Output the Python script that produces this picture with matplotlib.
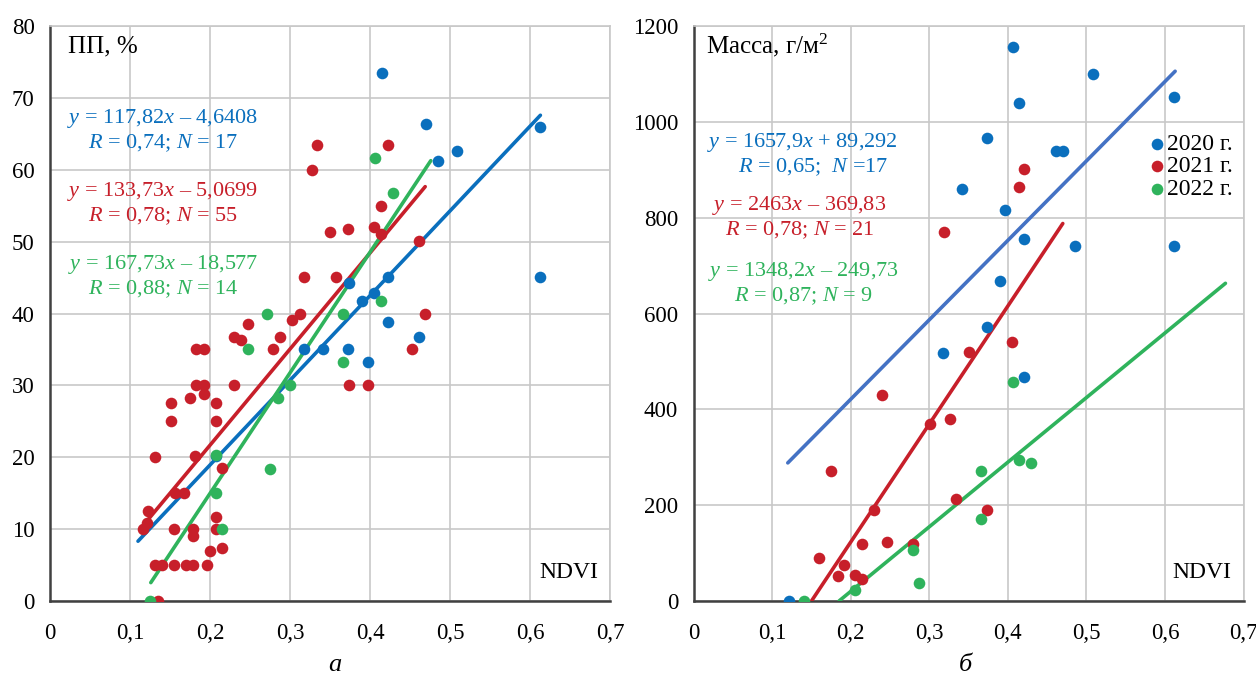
import numpy as np
import matplotlib
matplotlib.use('agg')
import matplotlib.pyplot as plt

plt.rcParams['font.family'] = ['Liberation Serif', 'DejaVu Serif']
plt.rcParams['mathtext.fontset'] = 'custom'
plt.rcParams['mathtext.rm'] = 'Liberation Serif'
plt.rcParams['mathtext.it'] = 'Liberation Serif:italic'

# colors
c_blue = '#0a6fbd'
c_red = '#c71f2a'
c_green = '#2fb35c'
c_blue_line = '#4472c4'

# ---- panel a: ПП, % vs NDVI ----
a_x2020 = [0.4145, 0.470, 0.613, 0.509, 0.485, 0.613, 0.422, 0.374, 0.405, 0.390,
           0.422, 0.461, 0.318, 0.341, 0.373, 0.397, 0.207]
a_y2020 = [73.4, 66.3, 66.0, 62.6, 61.2, 45.1, 45.1, 44.2, 42.8, 41.7,
           38.8, 36.8, 35.1, 35.1, 35.1, 33.3, 20.2]
a_x2021 = [0.334, 0.422, 0.327, 0.414, 0.350, 0.373, 0.405, 0.414, 0.461, 0.318,
           0.358, 0.312, 0.303, 0.469, 0.287, 0.453, 0.247, 0.230, 0.239, 0.279,
           0.183, 0.193, 0.183, 0.193, 0.175, 0.192, 0.230, 0.151, 0.207, 0.151,
           0.207, 0.374, 0.398, 0.131, 0.181, 0.215, 0.156, 0.167, 0.123, 0.116,
           0.155, 0.179, 0.179, 0.207, 0.207, 0.200, 0.215, 0.131, 0.140, 0.155,
           0.170, 0.179, 0.196, 0.135, 0.121]
a_y2021 = [63.4, 63.4, 60.0, 55.0, 51.3, 51.8, 52.1, 51.1, 50.1, 45.1,
           45.1, 40.0, 39.1, 40.0, 36.7, 35.1, 38.5, 36.8, 36.3, 35.0,
           35.0, 35.0, 30.0, 30.0, 28.3, 28.8, 30.0, 27.5, 27.5, 25.0,
           25.0, 30.0, 30.0, 20.0, 20.2, 18.5, 15.0, 15.0, 12.5, 10.0,
           10.0, 10.0, 9.1, 11.7, 10.0, 7.0, 7.4, 5.0, 5.0, 5.0,
           5.0, 5.0, 5.0, 0.0, 10.8]
a_x2022 = [0.406, 0.429, 0.414, 0.366, 0.271, 0.248, 0.366, 0.300, 0.285, 0.275,
           0.207, 0.215, 0.125, 0.207]
a_y2022 = [61.7, 56.7, 41.7, 40.0, 40.0, 35.0, 33.3, 30.0, 28.3, 18.3,
           15.0, 10.0, 0.0, 20.3]

# trend lines: slope, intercept, x range
a_fit = {'2020': (117.82, -4.6408, 0.110, 0.613),
         '2021': (133.73, -5.0699, 0.118, 0.469),
         '2022': (167.73, -18.577, 0.126, 0.476)}

# ---- panel б: Масса, г/м2 vs NDVI ----
b_x2020 = [0.406, 0.508, 0.414, 0.612, 0.374, 0.461, 0.470, 0.342, 0.397, 0.421,
           0.486, 0.612, 0.390, 0.374, 0.318, 0.421, 0.121]
b_y2020 = [1156, 1099, 1039, 1051, 967, 940, 940, 860, 815, 755,
           741, 741, 667, 572, 517, 467, 0]
b_x2021 = [0.421, 0.414, 0.319, 0.350, 0.405, 0.301, 0.326, 0.334, 0.374, 0.279,
           0.240, 0.175, 0.230, 0.215, 0.246, 0.160, 0.191, 0.184, 0.206, 0.215]
b_y2021 = [901, 865, 771, 519, 540, 369, 379, 213, 190, 118,
           430, 271, 190, 120, 123, 89, 75, 53, 55, 45]
b_x2022 = [0.406, 0.414, 0.430, 0.366, 0.366, 0.279, 0.287, 0.206, 0.141]
b_y2022 = [457, 294, 289, 271, 172, 106, 38, 22, 0]

b_fit = {'2020': (1657.9, 89.292, 0.120, 0.613),
         '2021': (2463.0, -369.83, 0.1502, 0.470),
         '2022': (1348.2, -249.73, 0.1853, 0.677)}

x_ticks = [0, 0.1, 0.2, 0.3, 0.4, 0.5, 0.6, 0.7]
x_labels = ['0', '0,1', '0,2', '0,3', '0,4', '0,5', '0,6', '0,7']

W, H = 1256, 687
fig = plt.figure(figsize=(W / 100, H / 100), dpi=100)
ax1 = fig.add_axes([50 / W, 1 - 601 / H, 560 / W, 575 / H])
ax2 = fig.add_axes([693.5 / W, 1 - 601 / H, 550 / W, 575 / H])


def style_axes(ax, ymax, ystep, ypad):
    ax.set_xlim(0, 0.7)
    ax.set_ylim(0, ymax)
    ax.set_xticks(x_ticks)
    ax.set_xticklabels(x_labels)
    ax.set_yticks(np.arange(0, ymax + ystep / 2, ystep))
    ax.grid(True, color='#c8c8c8', linewidth=1.2)
    ax.set_axisbelow(True)
    ax.tick_params(axis='both', length=0, labelsize=16.5)
    ax.tick_params(axis='x', pad=16)
    ax.tick_params(axis='y', pad=ypad)
    for s in ['top', 'right']:
        ax.spines[s].set_color('#c8c8c8')
        ax.spines[s].set_linewidth(1.2)
    for s in ['left', 'bottom']:
        ax.spines[s].set_color('#404040')
        ax.spines[s].set_linewidth(1.8)


def draw_fit(ax, fit, color):
    k, b, x0, x1 = fit
    xs = np.array([x0, x1])
    ax.plot(xs, k * xs + b, color=color, linewidth=2.6, solid_capstyle='round', zorder=3)


ms = 70
eq_fs = 16
eq_ls = 1.15
# panel a
style_axes(ax1, 80, 10, 11)
ax1.scatter(a_x2020, a_y2020, s=ms, color=c_blue, zorder=4, linewidths=0)
ax1.scatter(a_x2021, a_y2021, s=ms, color=c_red, zorder=4, linewidths=0)
ax1.scatter(a_x2022, a_y2022, s=ms, color=c_green, zorder=4, linewidths=0)
draw_fit(ax1, a_fit['2020'], c_blue)
draw_fit(ax1, a_fit['2021'], c_red)
draw_fit(ax1, a_fit['2022'], c_green)

ax1.text(0.022, 77.2, 'ПП, %', fontsize=18, va='center', ha='left')
ax1.text(0.141, 65.4, '$y$ = 117,82$x$ – 4,6408\n$R$ = 0,74; $N$ = 17', color=c_blue,
         fontsize=eq_fs, ha='center', va='center', multialignment='center', linespacing=eq_ls)
ax1.text(0.141, 55.3, '$y$ = 133,73$x$ – 5,0699\n$R$ = 0,78; $N$ = 55', color=c_red,
         fontsize=eq_fs, ha='center', va='center', multialignment='center', linespacing=eq_ls)
ax1.text(0.141, 45.2, '$y$ = 167,73$x$ – 18,577\n$R$ = 0,88; $N$ = 14', color=c_green,
         fontsize=eq_fs, ha='center', va='center', multialignment='center', linespacing=eq_ls)
ax1.text(0.685, 4.0, 'NDVI', fontsize=17, ha='right', va='center')

# panel б
style_axes(ax2, 1200, 200, 11)
ax2.scatter(b_x2020, b_y2020, s=ms, color=c_blue, zorder=4, linewidths=0, label='2020 г.')
ax2.scatter(b_x2021, b_y2021, s=ms, color=c_red, zorder=4, linewidths=0, label='2021 г.')
ax2.scatter(b_x2022, b_y2022, s=ms, color=c_green, zorder=4, linewidths=0, label='2022 г.')
draw_fit(ax2, b_fit['2020'], c_blue_line)
draw_fit(ax2, b_fit['2021'], c_red)
draw_fit(ax2, b_fit['2022'], c_green)

ax2.text(0.016, 1160, 'Масса, г/м$^2$', fontsize=18, va='center', ha='left')
ax2.text(0.138, 931, '$y$ = 1657,9$x$ + 89,292\n    $R$ = 0,65;  $N$ =17', color=c_blue,
         fontsize=eq_fs, ha='center', va='center', multialignment='center', linespacing=eq_ls)
ax2.text(0.135, 800, '$y$ = 2463$x$ – 369,83\n$R$ = 0,78; $N$ = 21', color=c_red,
         fontsize=eq_fs, ha='center', va='center', multialignment='center', linespacing=eq_ls)
ax2.text(0.14, 662, '$y$ = 1348,2$x$ – 249,73\n$R$ = 0,87; $N$ = 9', color=c_green,
         fontsize=eq_fs, ha='center', va='center', multialignment='center', linespacing=eq_ls)
ax2.text(0.685, 60, 'NDVI', fontsize=17, ha='right', va='center')

ax2.legend(loc='upper left', bbox_to_anchor=(0.8, 0.83), frameon=False, fontsize=17,
           handletextpad=-0.2, labelspacing=0.05, borderaxespad=0, handlelength=1.2,
           markerscale=1.0)

fig.text(335 / W, 1 - 665 / H, 'а', fontsize=19, style='italic', ha='center', va='center')
fig.text(965 / W, 1 - 665 / H, 'б', fontsize=19, style='italic', ha='center', va='center')

fig.savefig('out.png', dpi=100)
